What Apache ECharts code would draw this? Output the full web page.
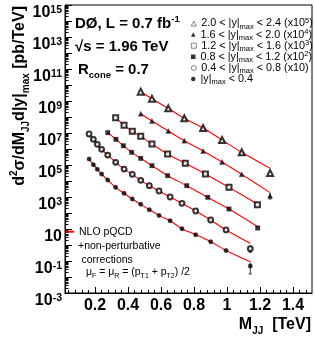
<!DOCTYPE html>
<html><head><meta charset="utf-8">
<script src="https://cdn.jsdelivr.net/npm/echarts@6/dist/echarts.min.js"></script>
<style>html,body{margin:0;padding:0;background:#fff}#c{width:315px;height:341px}</style>
</head><body><div id="c"></div>
<script>
const FONT = '"Liberation Sans", Arial, Helvetica, sans-serif';

// ---- data (cross sections in pb/TeV, already multiplied by the plotted scale factor) ----
const massA = [0.164,0.190,0.214,0.240,0.277,0.325,0.376,0.426,0.477,0.529,0.588,0.655,0.727,0.810,0.901,0.994,1.141];
const massB = [0.277,0.327,0.372,0.422,0.477,0.545,0.640,0.756,0.883,1.012,1.186];
const massC = [0.325,0.376,0.426,0.477,0.545,0.640,0.747,0.869,1.012,1.184];
const massD = [0.477,0.545,0.644,0.741,0.855,0.970,1.089,1.261];

const dataY6 = [2.37e5,1.05e5,5.4e4,2.7e4,1.15e4,4.0e3,1.7e3,750,347,162,71,33,10.5,4.4,1.6,0.46,0.049];
const dataY5 = [8.66e6,4.02e6,1.96e6,9.5e5,4.2e5,1.47e5,5.6e4,2.6e4,1.1e4,5.1e3,2.37e3,1.0e3,402,133,36.5,8.7,0.59];
const dataY4 = [1.05e7,4.0e6,1.6e6,6.2e5,2.6e5,9.1e4,2.15e4,5.1e3,953,178,11.5];
const dataY3 = [9.1e7,3.0e7,1.27e7,6.2e6,2.05e6,4.9e5,1.27e5,2.74e4,4.0e3,331];
const dataY2 = [1.61e8,5.6e7,1.33e7,3.3e6,7.5e5,1.54e5,2.6e4,1.21e3];
const dataY1 = [3.83e9,1.40e9,3.47e8,8.3e7,2.05e7,3.65e6,6.2e5,3.16e4];

const nloY6 = [2.37e5,1.05e5,5.4e4,2.7e4,1.15e4,4.0e3,1.7e3,750,347,162,71,33,10.5,4.4,1.6,0.46,0.091];
const nloY5 = [8.66e6,4.02e6,1.96e6,9.5e5,4.2e5,1.47e5,5.6e4,2.6e4,1.1e4,5.1e3,2.37e3,1.0e3,402,133,36.5,8.7,1.27];
const nloY4 = [1.05e7,4.0e6,1.6e6,6.2e5,2.6e5,9.1e4,2.15e4,5.1e3,953,178,14];
const nloY3 = [9.1e7,3.0e7,1.27e7,6.2e6,2.05e6,4.9e5,1.27e5,2.74e4,4.0e3,365];
const nloY2 = [1.61e8,5.6e7,1.33e7,3.3e6,7.5e5,1.54e5,2.6e4,1.87e3];
const nloY1 = [3.83e9,1.40e9,3.47e8,8.3e7,2.05e7,3.65e6,6.2e5,6.2e4];

const errMass = [1.141,1.141,1.261];
const errLow  = [0.0154,0.35,750];
const errHigh = [0.08,0.91,1.8e3];

const seriesNames = [
  '2.0 < |y|max < 2.4 (x10^5)',
  '1.6 < |y|max < 2.0 (x10^4)',
  '1.2 < |y|max < 1.6 (x10^3)',
  '0.8 < |y|max < 1.2 (x10^2)',
  '0.4 < |y|max < 0.8 (x10)',
  '|y|max < 0.4'
];
const xTickLabels = [0.2,0.4,0.6,0.8,1.0,1.2,1.4];
const yLabelExps = [-3,-1,1,3,5,7,9,11,13,15];

// ---- helpers ----
const pair = (xs, ys) => xs.map((x, i) => [x, ys[i]]);
// nudge values by a hair so that float rounding of log10 keeps the end labels inside the axis extent
const nudge = e => Math.pow(10, e) * (e === 15 ? 0.99999 : (e === -3 ? 1.00001 : 1));
const yLabelValues = yLabelExps.map(nudge);
const yMajor = []; const yMinor = [];
for (let e = -3; e <= 15; e++) {
  yMajor.push(nudge(e));
  if (e < 15) for (let k = 2; k <= 9; k++) yMinor.push(k * Math.pow(10, e));
}
const xMinor = [];
for (let i = 1; i <= 37; i++) xMinor.push(+(i * 0.04).toFixed(2));

const tok = (size, weight) => ({fontSize: size, fontWeight: weight, fontFamily: FONT, color: '#000'});
const richLegend = {
  sub: Object.assign(tok(7.5, 'normal'), {lineHeight: 7, verticalAlign: 'bottom'}),
  sup: Object.assign(tok(7.5, 'normal'), {lineHeight: 7, verticalAlign: 'top'})
};
const legendFmt = n => n.replace('max', '{sub|max}').replace(/\^(\d)/, '{sup|$1}');

const sym = [
  {symbol: 'emptyTriangle', icon: 'triangle', open: true, size: 6, bw: 0.5},
  {symbol: 'triangle', icon: 'triangle', open: false, size: 5, bw: 0.3},
  {symbol: 'emptyRect', icon: 'rect', open: true, size: 5, bw: 0.5},
  {symbol: 'rect', icon: 'rect', open: false, size: 4.5, bw: 0.3},
  {symbol: 'emptyCircle', icon: 'circle', open: true, size: 4.8, bw: 0.5},
  {symbol: 'circle', icon: 'circle', open: false, size: 4.5, bw: 0.3}
];
const dataSets = [pair(massD, dataY1), pair(massD, dataY2), pair(massC, dataY3), pair(massB, dataY4), pair(massA, dataY5), pair(massA, dataY6)];
const nloSets = [pair(massD, nloY1), pair(massD, nloY2), pair(massC, nloY3), pair(massB, nloY4), pair(massA, nloY5), pair(massA, nloY6)];

const series = [];
nloSets.forEach(d => series.push({
  type: 'line', name: 'NLO pQCD', data: d, smooth: 0.3, symbol: 'none', z: 2,
  lineStyle: {color: '#ff0000', width: 1.1}, itemStyle: {color: '#ff0000'}, silent: true
}));
series.push({
  type: 'custom', silent: true, z: 3,
  data: errMass.map((m, i) => [m, errLow[i], errHigh[i]]),
  renderItem: (params, api) => {
    const p1 = api.coord([api.value(0), api.value(1)]);
    const p2 = api.coord([api.value(0), api.value(2)]);
    const st = {stroke: '#000', lineWidth: 0.8};
    return {type: 'group', children: [
      {type: 'line', shape: {x1: p1[0], y1: p1[1], x2: p2[0], y2: p2[1]}, style: st},
      {type: 'line', shape: {x1: p1[0] - 1.5, y1: p1[1], x2: p1[0] + 1.5, y2: p1[1]}, style: st}
    ]};
  }
});
dataSets.forEach((d, i) => series.push({
  type: 'scatter', name: seriesNames[i], data: d, symbol: sym[i].symbol, symbolSize: sym[i].size, z: 4,
  itemStyle: {color: '#000', borderColor: '#000', borderWidth: sym[i].bw}, silent: true
}));

const legendTops = [23.5, 34.6, 45.7, 56.8, 67.9, 79.0];
const legends = seriesNames.map((n, i) => ({
  data: [{name: n, icon: sym[i].icon,
          itemStyle: sym[i].open ? {color: '#fff', borderColor: '#000', borderWidth: 0.6}
                                 : {color: '#000', borderColor: '#000', borderWidth: 0}}],
  orient: 'vertical', left: 191, top: legendTops[i] - 7, padding: 0,
  itemWidth: sym[i].open ? 5 : 4.5, itemHeight: sym[i].open ? 5 : 4.5, selectedMode: false, formatter: legendFmt,
  textStyle: {fontSize: 10.8, fontFamily: FONT, color: '#000', lineHeight: 14, rich: richLegend}
}));
legends.push({
  data: [{name: 'NLO pQCD', icon: 'rect', itemStyle: {color: '#ff0000', borderWidth: 0}}],
  left: 66, top: 231.7 - 7, padding: 0, itemWidth: 8, itemHeight: 2,
  selectedMode: false, textStyle: {fontSize: 10.5, fontFamily: FONT, color: '#000', lineHeight: 14}
});

const boldRich = {
  sup: Object.assign(tok(9.5, 'bold'), {lineHeight: 9, verticalAlign: 'top'}),
  sub: Object.assign(tok(9.5, 'bold'), {lineHeight: 9, verticalAlign: 'bottom'}),
  n: Object.assign(tok(15, 'bold'), {lineHeight: 20})
};
const normRich = {
  sub: Object.assign(tok(7, 'normal'), {lineHeight: 7, verticalAlign: 'bottom'}),
  n: Object.assign(tok(10.5, 'normal'), {lineHeight: 15})
};
const titleRich = {
  sup: Object.assign(tok(10, 'bold'), {lineHeight: 10, verticalAlign: 'top'}),
  sub: Object.assign(tok(10, 'bold'), {lineHeight: 10, verticalAlign: 'bottom'}),
  n: Object.assign(tok(16, 'bold'), {lineHeight: 22})
};
const txt = (x, y, text, rich, extra) => Object.assign({
  type: 'text', x: x, y: y, silent: true,
  style: {text: text, rich: rich, align: 'left', verticalAlign: 'middle', fill: '#000'}
}, extra || {});

const option = {
  backgroundColor: '#fff',
  animation: false,
  grid: {left: 65, right: 3, top: 5, bottom: 48, show: true, borderColor: '#000', borderWidth: 1, backgroundColor: 'transparent'},
  xAxis: [
    {type: 'value', min: 0.018, max: 1.515, splitLine: {show: false},
     axisLine: {lineStyle: {color: '#000'}},
     axisTick: {inside: true, length: 6, customValues: xTickLabels, lineStyle: {color: '#000'}},
     axisLabel: {customValues: xTickLabels, margin: 5, formatter: v => String(+v.toFixed(1)),
       fontSize: 16, fontWeight: 'bold', fontFamily: FONT, color: '#000'}},
    {type: 'value', min: 0.018, max: 1.515, position: 'bottom', splitLine: {show: false},
     axisLine: {show: false}, axisLabel: {show: false},
     axisTick: {inside: true, length: 3, customValues: xMinor, lineStyle: {color: '#000'}}}
  ],
  yAxis: [
    {type: 'log', logBase: 10, min: 1e-3, max: 1e15, splitLine: {show: false},
     axisLine: {lineStyle: {color: '#000'}},
     axisTick: {inside: true, length: 7, customValues: yMajor, lineStyle: {color: '#000'}},
     axisLabel: {customValues: yLabelValues, showMaxLabel: true, showMinLabel: true, hideOverlap: false,
       margin: 3, verticalAlign: 'top',
       formatter: v => { const e = Math.round(Math.log10(v)); return e === 1 ? '{b|10}' : '{b|10}{s|' + e + '}'; },
       rich: {
         b: Object.assign(tok(16, 'bold'), {lineHeight: 16}),
         s: Object.assign(tok(10.5, 'bold'), {lineHeight: 5, verticalAlign: 'top'})
       }}},
    {type: 'log', logBase: 10, min: 1e-3, max: 1e15, position: 'left', splitLine: {show: false},
     axisLine: {show: false}, axisLabel: {show: false},
     axisTick: {inside: true, length: 3.5, customValues: yMinor, lineStyle: {color: '#000'}}}
  ],
  legend: legends,
  series: series,
  graphic: [
    txt(75, 24.3, '{n|DØ, L = 0.7 fb}{sup|-1}', boldRich),
    txt(75, 46.7, '{n|√s = 1.96 TeV}', boldRich),
    txt(78, 70, '{n|R}{sub|cone}{n| = 0.7}', boldRich),
    txt(78, 246, '{n|+non-perturbative}', normRich),
    txt(81.5, 260, '{n|corrections}', normRich),
    txt(83, 271.7, '{n| μ}{sub|F}{n| = μ}{sub|R}{n| = (p}{sub|T1}{n| + p}{sub|T2}{n|) /2}', normRich),
    txt(311, 325, '', titleRich, {style: {text: '{n|M}{sub|JJ}{n|  [TeV]}', rich: titleRich, align: 'right', verticalAlign: 'middle'}}),
    txt(20, 6, '', titleRich,
      {rotation: Math.PI / 2, style: {text: '{n|d}{sup|2}{n|σ/dM}{sub|JJ}{n|d|y|}{sub|max}{n| [pb/TeV]}', rich: titleRich, align: 'right', verticalAlign: 'middle'}})
  ]
};
series.forEach(s => { if (s.xAxisIndex === undefined) { s.xAxisIndex = 0; s.yAxisIndex = 0; } });

const chart = echarts.init(document.getElementById('c'), null, {renderer: 'canvas'});
chart.setOption(option);
</script>
</body></html>
